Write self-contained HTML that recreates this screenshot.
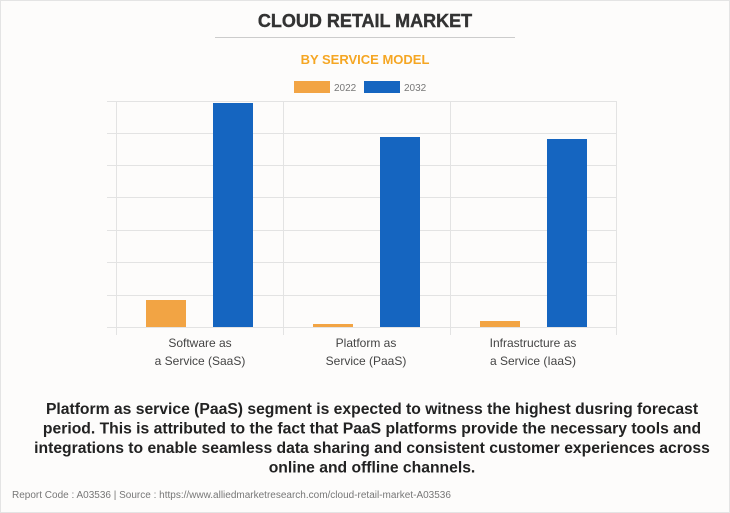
<!DOCTYPE html>
<html><head><style>
body{margin:0;background:#fff;}
.wrap{width:728px;height:511px;border:1px solid #e4e4e4;background:#fdfcfb;position:relative;font-family:"Liberation Sans",Arial,sans-serif;}
</style></head><body><div class="wrap">
<svg width="728" height="511" viewBox="1 1 728 511" xmlns="http://www.w3.org/2000/svg" style="position:absolute;left:0;top:0">
<text x="365" y="27" text-anchor="middle" font-family="Liberation Sans" font-weight="bold" font-size="18" fill="#333" stroke="#333" stroke-width="0.4">CLOUD RETAIL MARKET</text>
<line x1="215" y1="37.5" x2="515" y2="37.5" stroke="#ccc" stroke-width="1"/>
<text x="365" y="64" text-anchor="middle" font-family="Liberation Sans" font-weight="bold" font-size="13" fill="#f5a623">BY SERVICE MODEL</text>
<rect x="294" y="81" width="36" height="12" fill="#f2a444"/>
<text x="334" y="91" font-family="Liberation Sans" font-size="10" fill="#777">2022</text>
<rect x="364" y="81" width="36" height="12" fill="#1565c0"/>
<text x="404" y="91" font-family="Liberation Sans" font-size="10" fill="#777">2032</text>
<g stroke="#e3e3e3" stroke-width="1">
<line x1="107" y1="101.5" x2="616" y2="101.5"/>
<line x1="107" y1="133.5" x2="616" y2="133.5"/>
<line x1="107" y1="165.5" x2="616" y2="165.5"/>
<line x1="107" y1="197.5" x2="616" y2="197.5"/>
<line x1="107" y1="230.5" x2="616" y2="230.5"/>
<line x1="107" y1="262.5" x2="616" y2="262.5"/>
<line x1="107" y1="295.5" x2="616" y2="295.5"/>
<line x1="107" y1="327.5" x2="616" y2="327.5"/>
<line x1="116.5" y1="101" x2="116.5" y2="335"/>
<line x1="283.5" y1="101" x2="283.5" y2="335"/>
<line x1="450.5" y1="101" x2="450.5" y2="335"/>
<line x1="616.5" y1="101" x2="616.5" y2="335"/>
</g>
<rect x="146" y="300" width="40" height="27" fill="#f2a444"/>
<rect x="213" y="103" width="40" height="224" fill="#1565c0"/>
<rect x="313" y="324" width="40" height="3" fill="#f2a444"/>
<rect x="380" y="137" width="40" height="190" fill="#1565c0"/>
<rect x="480" y="321" width="40" height="6" fill="#f2a444"/>
<rect x="547" y="139" width="40" height="188" fill="#1565c0"/>
<g font-family="Liberation Sans" font-size="12" fill="#444" text-anchor="middle">
<text x="200" y="347">Software as</text><text x="200" y="365">a Service (SaaS)</text>
<text x="366" y="347">Platform as</text><text x="366" y="365">Service (PaaS)</text>
<text x="533" y="347">Infrastructure as</text><text x="533" y="365">a Service (IaaS)</text>
</g>
<g font-family="Liberation Sans" font-weight="bold" font-size="15.7" fill="#222" text-anchor="middle">
<text x="372" y="414">Platform as service (PaaS) segment is expected to witness the highest dusring forecast</text>
<text x="372" y="433.5">period. This is attributed to the fact that PaaS platforms provide the necessary tools and</text>
<text x="372" y="453">integrations to enable seamless data sharing and consistent customer experiences across</text>
<text x="372" y="472.5">online and offline channels.</text>
</g>
<text x="12" y="498" font-family="Liberation Sans" font-size="10" fill="#777">Report Code : A03536  |  Source : https://www.alliedmarketresearch.com/cloud-retail-market-A03536</text>
</svg>
</div></body></html>
